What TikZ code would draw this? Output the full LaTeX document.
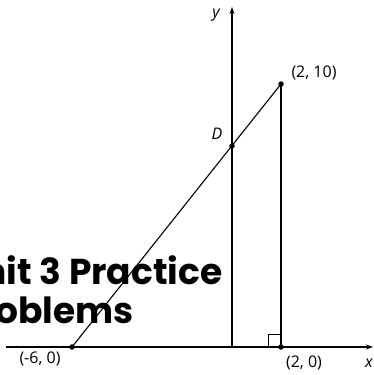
\documentclass[tikz,border=0pt]{standalone}
\usepackage{fontspec}
\setmainfont{Open Sans}
\newfontfamily\titlefont{Poppins}
\usetikzlibrary{positioning,arrows.meta}

\begin{document}
\begin{tikzpicture}[
  x=1pt, y=-1pt,
  font=\fontsize{16}{18}\selectfont,
  axis/.style={-{Stealth[length=7pt,width=5pt]}, line width=1.1pt},
  seg/.style={line width=1.1pt},
  dot/.style={circle, fill=black, inner sep=0pt, minimum size=5.5pt},
  title/.style={font=\titlefont\bfseries\fontsize{36}{39}\selectfont, align=left, inner sep=0pt},
  lbl/.style={inner sep=0pt}
]
  \useasboundingbox (0,0) rectangle (373,375);
  \clip (0,0) rectangle (373,375);
  % heading behind the figure
  \node[title, anchor=base west] (head) at (-43,323) {Unit 3 Practice\\Problems};
  % axes
  \coordinate (xs) at (6,347);
  \coordinate (xe) at (373,347);
  \coordinate (ys) at (232,347);
  \coordinate (ye) at (232,7);
  \draw[axis] (xs) -- (xe);
  \draw[axis] (ys) -- (ye);
  % points
  \node[dot] (A) at (72,347) {};
  \node[dot] (B) at (281,347) {};
  \node[dot] (C) at (281,84) {};
  \node[dot] (D) at (232,146) {};
  \draw[seg] (A.center) -- (C.center);
  \draw[seg] (C.center) -- (B.center);
  \draw[line width=0.6pt] (268,347) |- (281,334);
  % labels
  \node[lbl] (la) at (40,359) {(-6, 0)};
  \node[lbl] (lb) at (304,363) {(2, 0)};
  \node[lbl] (lc) at (314,73) {(2, 10)};
  \node[lbl] (ld) at (217,134) {\itshape D};
  \node[lbl] (lx) at (369,363) {\itshape x};
  \node[lbl] (ly) at (216,15) {\itshape y};
\end{tikzpicture}
\end{document}
